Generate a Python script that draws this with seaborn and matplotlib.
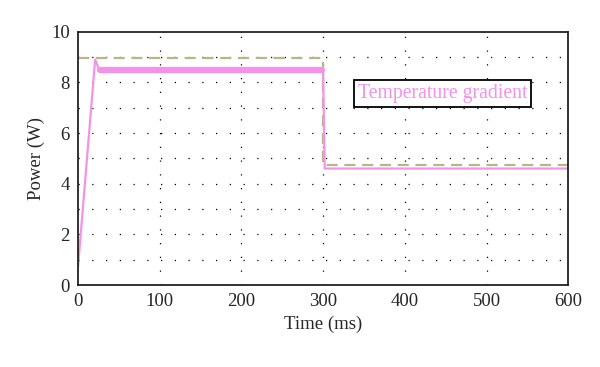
import seaborn as sns
import matplotlib.pyplot as plt

sns.set_style('white')
plt.rcParams['font.family'] = ['Liberation Serif', 'DejaVu Serif']

# measured power (pink)
t_meas = [0, 21, 26, 300, 302, 600]
p_meas = [0.7, 8.9, 8.5, 8.5, 4.6, 4.6]
# steady band with oscillation
t_band = [27, 299]
p_band = [8.5, 8.5]
# reference (dashed)
t_ref = [0, 300, 300, 600]
p_ref = [8.95, 8.95, 4.72, 4.72]

pink = '#f492ea'
olive = '#b9b48a'

fig = plt.figure(figsize=(6, 3.67), dpi=100)
ax = fig.add_axes([0.13, 0.2234, 0.817, 0.69])

sns.lineplot(x=t_ref, y=p_ref, ax=ax, color=olive, lw=1.6,
             linestyle=(0, (5, 3)), sort=False, estimator=None)
sns.lineplot(x=t_meas, y=p_meas, ax=ax, color=pink, lw=1.6, sort=False, estimator=None)
sns.lineplot(x=t_band, y=p_band, ax=ax, color=pink, lw=4.5, sort=False, estimator=None)

ax.set_xlim(0, 600)
ax.set_ylim(0, 10)
ax.set_xticks(range(0, 601, 100))
ax.set_yticks(range(0, 11, 2))
ax.grid(False)
for v in range(1, 10):
    ax.axhline(v, color='black', lw=0.9, linestyle=(0, (1, 10)), zorder=0)
for v in range(100, 600, 100):
    ax.axvline(v, color='black', lw=0.9, linestyle=(0, (1, 10)), zorder=0)

for s in ax.spines.values():
    s.set_color('#222222')
    s.set_linewidth(1.3)
ax.tick_params(axis='both', which='both', length=0, labelsize=13.5, pad=6)
ax.set_xlabel('Time (ms)', fontsize=13.5)
ax.set_ylabel('Power (W)', fontsize=13.5)

ax.text(446, 7.57, 'Temperature gradient', color=pink, fontsize=14.2,
        ha='center', va='center',
        bbox=dict(boxstyle='square,pad=0.2', facecolor='white', edgecolor='black', lw=1.3))

plt.savefig('out.png', dpi=100)
